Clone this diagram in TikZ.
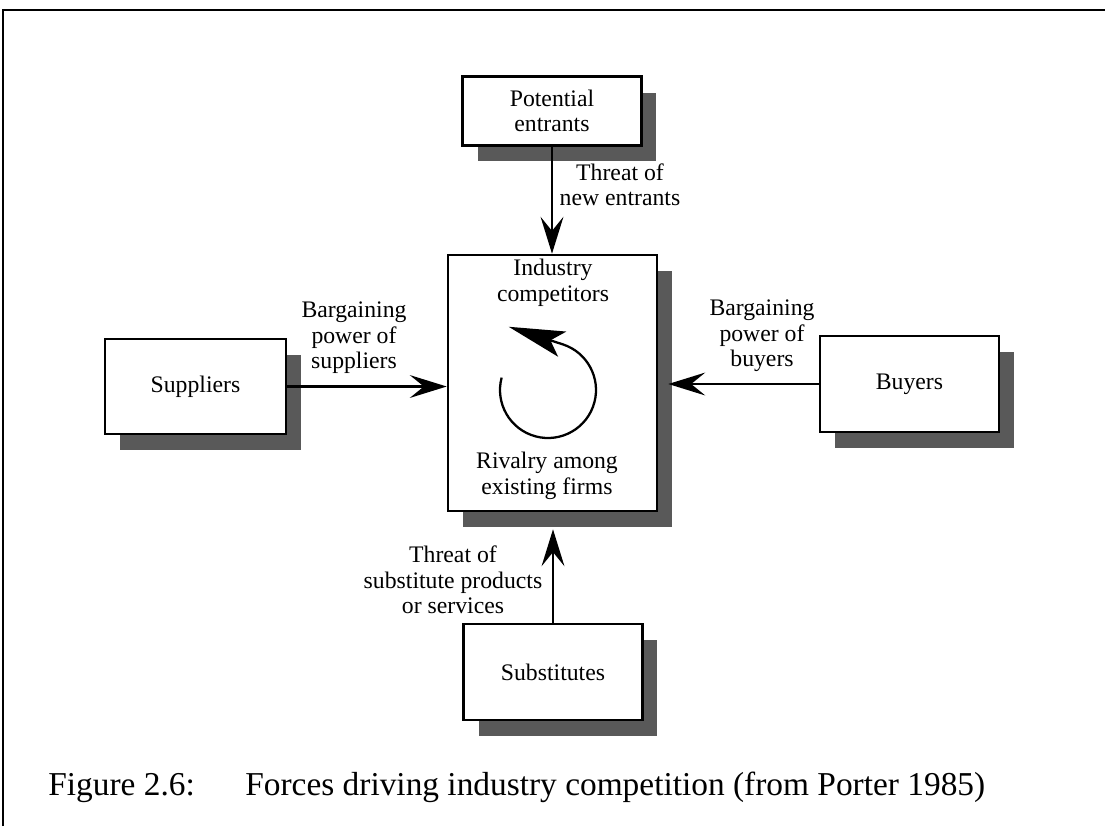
\documentclass[tikz,border=0pt]{standalone}
\usepackage{fontspec}
\setmainfont{Liberation Serif}
\usetikzlibrary{arrows.meta}
\usetikzlibrary{shadows}

\begin{document}
\begin{tikzpicture} [x=0.02cm, y=-0.02cm,
            force/.style={-{Stealth[length=21pt,width=13pt,inset=8pt]},line width=1.3pt},
            firm/.style={draw, line width=1.5pt, fill=white, align=center,
                         minimum width=3.58cm, minimum height=1.92cm,
                         drop shadow={shadow xshift=0.3cm, shadow yshift=-0.32cm, fill=black!65, opacity=1}},
            capt/.style={anchor=base west, inner sep=0pt, font=\fontsize{19}{22}\selectfont},
            every node/.append style={align=center, font=\fontsize{13.5}{14.5}\selectfont}]

\useasboundingbox (0,0) rectangle (1105,826);

% frame
\draw[line width=1.2pt] (3,826) -- (3,10) -- (1105,10);

%core
\node[firm, minimum width=4.18cm, minimum height=5.12cm] (core) at (552.5,383) {};
\node (ind) at (553,283) {Industry\\competitors};
\node (riv) at (547,476) {Rivalry among\\existing firms};
\coordinate (rot) at (548,390);
\draw[line width=1.3pt, -{Stealth[length=32pt,width=15pt,inset=7pt]}]
   (rot) ++(165:0.96cm) arc[start angle=165, end angle=432, radius=0.96cm] -- ++(162:1.14cm);

%entrants
\node[firm, minimum height=1.38cm] (pot) at (552,111) {Potential\\entrants};
\node (tne) at (620,185) {Threat of\\new entrants};
\draw[force] (pot.south) -- (pot.south |- core.north);

%suppliers
\node[firm, minimum width=3.62cm, minimum height=1.9cm] (sup) at (195.5,386.5) {Suppliers};
\node (bps) at (354,338) {Bargaining\\power of\\suppliers};
\draw[force] (sup.east) -- (sup.east -| core.west);

%buyers
\node[firm] (buy) at (909.5,384) {Buyers};
\node (bpb) at (762,336) {Bargaining\\power of\\buyers};
\draw[force] (buy.west) -- ([xshift=0.2cm]buy.west -| core.east);

%substitutes
\node[firm] (sub) at (553,672) {Substitutes};
\node (tsp) at (453,580) {Threat of\\substitute products\\or services};
\draw[force] (sub.north) -- ([yshift=-0.34cm]sub.north |- core.south);

% caption
\node[capt] (fig) at (48,795) {Figure 2.6:};
\node[capt] (cap) at (245,795) {Forces driving industry competition (from Porter 1985)};

\end{tikzpicture}
\end{document}
